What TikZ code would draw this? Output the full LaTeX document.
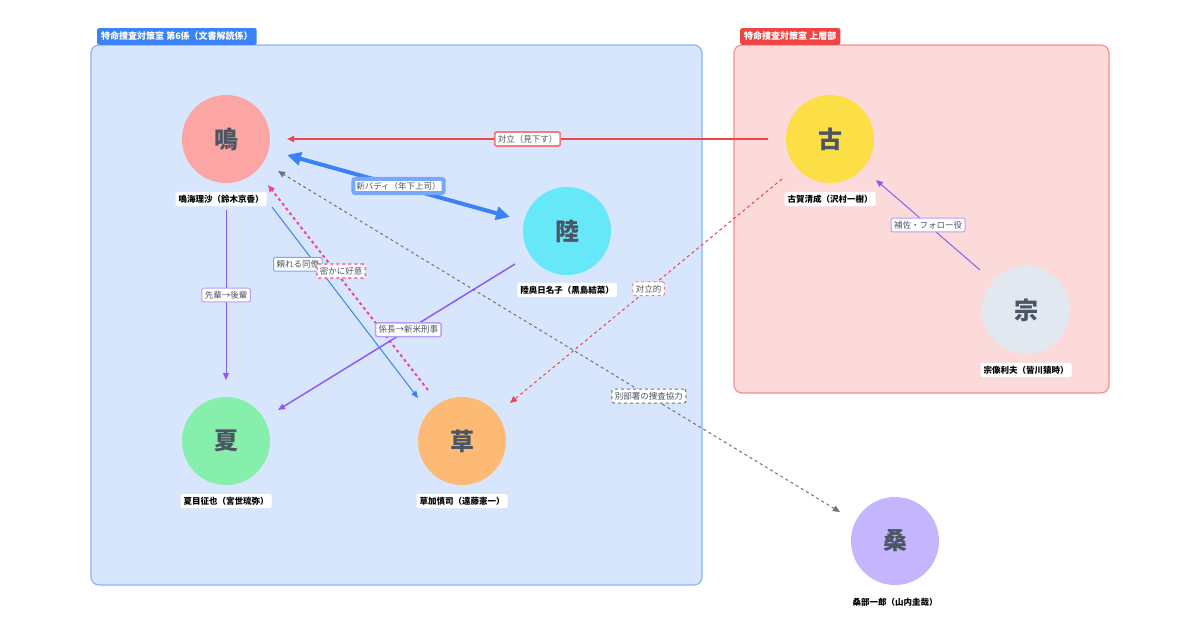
\documentclass[tikz,border=0pt]{standalone}
\usepackage{fontspec}
\setmainfont{Noto Sans CJK JP}
\usetikzlibrary{arrows.meta}
\definecolor{gblue}{HTML}{3B82F6}
\definecolor{gred}{HTML}{EF4444}
\definecolor{gpur}{HTML}{8B5CF6}
\definecolor{gpink}{HTML}{EC4899}
\definecolor{ggray}{HTML}{6B7280}
\definecolor{txt}{HTML}{4B5563}
\definecolor{cna}{HTML}{FCA5A5}
\definecolor{cri}{HTML}{67E8F9}
\definecolor{cko}{HTML}{FCDE47}
\definecolor{cmu}{HTML}{E2E8F0}
\definecolor{cnt}{HTML}{86EFAC}
\definecolor{cku}{HTML}{FDBA74}
\definecolor{ckw}{HTML}{C4B5FD}
\tikzset{
 person/.style={circle,minimum size=88pt,inner sep=0pt,text=txt,font=\bfseries\fontsize{24}{24}\selectfont},
 pname/.style={fill=white,rounded corners=2pt,inner sep=3pt,font=\bfseries\fontsize{8.5}{9}\selectfont,text=black},
 elab/.style={fill=white,draw=#1,rounded corners=2pt,inner sep=3pt,font=\fontsize{8.5}{9}\selectfont,text=txt},
 grouptab/.style={fill=#1,text=white,rounded corners=2pt,inner sep=4pt,font=\bfseries\fontsize{9}{10}\selectfont,anchor=south west},
 ar/.style={-{Triangle[length=7pt,width=6pt]}},
}
\begin{document}
\begin{tikzpicture}[x=1pt,y=-1pt]
\useasboundingbox (0,0) rectangle (1200,630);
\fill[white] (0,0) rectangle (1200,630);
\draw[gblue!60,fill=gblue!20,rounded corners=8pt,line width=1.2pt] (91,45) rectangle (702,585);
\node[grouptab=gblue] (t1) at (97,45) {特命捜査対策室 第6係（文書解読係）};
\draw[gred!60,fill=gred!20,rounded corners=8pt,line width=1.2pt] (734,45) rectangle (1109,393);
\node[grouptab=gred] (t2) at (740,45) {特命捜査対策室 上層部};

\node[person,fill=cna] (na) at (226,139) {鳴};
\node[person,fill=cri] (ri) at (567,231) {陸};
\node[person,fill=cko] (ko) at (830,139) {古};
\node[person,fill=cmu] (mu) at (1026,310) {宗};
\node[person,fill=cnt] (na2) at (226,441) {夏};
\node[person,fill=cku] (ku) at (462,441) {草};
\node[person,fill=ckw] (kw) at (895,541) {桑};

\coordinate (a1) at (768,139); \coordinate (a2) at (287,139);
\coordinate (b1) at (287,155); \coordinate (b2) at (510,217);
\coordinate (c1) at (226,210); \coordinate (c2) at (226,380);
\coordinate (d1) at (272,207); \coordinate (d2) at (418,398);
\coordinate (e1) at (428,390); \coordinate (e2) at (268,185);
\coordinate (f1) at (515,264); \coordinate (f2) at (278,410);
\coordinate (g1) at (782,179); \coordinate (g2) at (510,403);
\coordinate (h1) at (840,512); \coordinate (h2) at (278,171);
\coordinate (i1) at (980,270); \coordinate (i2) at (876,180);

\draw[ar,gred,line width=1.8pt] (a1) -- node[elab=gred!70] {対立（見下す）} (a2);
\draw[{Triangle[length=14pt,width=13pt]}-{Triangle[length=14pt,width=13pt]},gblue,line width=4pt] (b1) -- node[elab=gblue!70] {新バディ（年下上司）} (b2);
\draw[ar,gpur,line width=1pt] (c1) -- node[elab=gpur!60] {先輩→後輩} (c2);
\draw[ar,gblue,line width=1pt] (d1) -- node[elab=gblue!70,pos=0.3,xshift=-18pt] {頼れる同僚} (d2);
\draw[ar,gpink,line width=2pt,dashed] (e1) -- node[elab=gpink!70,pos=0.58,xshift=6pt] {密かに好意} (e2);
\draw[ar,gpur,line width=1.5pt] (f1) -- node[elab=gpur!60,pos=0.45] {係長→新米刑事} (f2);
\draw[ar,gred,line width=1pt,dashed] (g1) -- node[elab=gred!70,pos=0.49] {対立的} (g2);
\draw[{Triangle[length=7pt,width=6pt]}-{Triangle[length=7pt,width=6pt]},ggray,line width=1pt,dashed] (h1) -- node[elab=ggray,pos=0.34] {別部署の捜査協力} (h2);
\draw[ar,gpur,line width=1pt] (i1) -- node[elab=gpur!60] {補佐・フォロー役} (i2);

\node[pname] (ln1) at (221,199) {鳴海理沙（鈴木京香）};
\node[pname] (ln2) at (567,290) {陸奥日名子（黒島結菜）};
\node[pname] (ln3) at (830,199) {古賀清成（沢村一樹）};
\node[pname] (ln4) at (1026,370) {宗像利夫（皆川猿時）};
\node[pname] (ln5) at (226,501) {夏目征也（宮世琉弥）};
\node[pname] (ln6) at (462,501) {草加慎司（遠藤憲一）};
\node[pname] (ln7) at (895,602) {桑部一郎（山内圭哉）};
\end{tikzpicture}
\end{document}
